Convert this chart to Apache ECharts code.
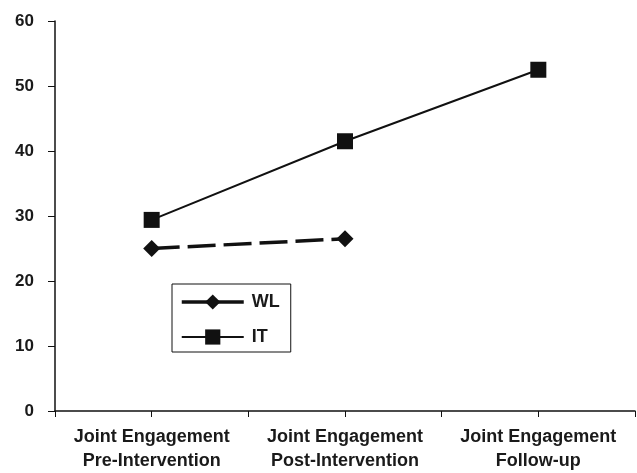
<!DOCTYPE html>
<html><head><meta charset="utf-8">
<script src="https://cdn.jsdelivr.net/npm/echarts@6/dist/echarts.min.js"></script>
<style>html,body{margin:0;padding:0;background:#fff}#c{width:637px;height:473px}</style>
</head><body><div id="c"></div>
<script>
var categories = ['Joint Engagement\nPre-Intervention', 'Joint Engagement\nPost-Intervention', 'Joint Engagement\nFollow-up'];
var wlValues = [25.0, 26.5, null];
var itValues = [29.4, 41.5, 52.5];
var yTicks = [0, 10, 20, 30, 40, 50, 60];

var chart = echarts.init(document.getElementById('c'));
var fam = 'Liberation Sans, Arial, sans-serif';
chart.setOption({
  animation: false,
  backgroundColor: '#fff',
  grid: {left: 55, right: 2, top: 21, bottom: 62},
  xAxis: [{
    type: 'category', data: categories, boundaryGap: true,
    axisLine: {lineStyle: {color: '#111', width: 1.5}},
    axisTick: {show: true, length: 6, lineStyle: {color: '#111'}},
    axisLabel: {margin: 14, lineHeight: 24, interval: 0, fontFamily: fam, fontWeight: 'bold', fontSize: 18, color: '#1a1a1a'},
    splitLine: {show: false}
  }, {
    type: 'category', data: categories, position: 'bottom', boundaryGap: true,
    axisLine: {show: false},
    axisTick: {show: true, alignWithLabel: true, length: 6, lineStyle: {color: '#111'}},
    axisLabel: {show: false}, splitLine: {show: false}
  }],
  yAxis: {
    type: 'value', min: yTicks[0], max: yTicks[yTicks.length - 1], interval: 10,
    axisLine: {show: true, lineStyle: {color: '#111', width: 1.5}},
    axisTick: {show: true, length: 7, lineStyle: {color: '#111'}},
    axisLabel: {margin: 21, fontFamily: fam, fontWeight: 'bold', fontSize: 17, color: '#1a1a1a'},
    splitLine: {show: false}
  },
  legend: {
    orient: 'vertical', left: 172, top: 284,
    borderColor: '#111', borderWidth: 1, padding: [9, 11, 6, 8], itemGap: 17,
    itemWidth: 62, itemHeight: 19,
    textStyle: {fontFamily: fam, fontWeight: 'bold', fontSize: 18, color: '#1a1a1a', padding: [0, 0, 0, 3]},
    data: [
      {name: 'WL', lineStyle: {type: 'solid', width: 3.5}},
      {name: 'IT'}
    ]
  },
  series: [{
    name: 'WL', type: 'line', data: wlValues, color: '#111',
    symbol: 'diamond', symbolSize: 17,
    lineStyle: {color: '#111', width: 3.5, type: [28, 8]},
    itemStyle: {color: '#111'}
  }, {
    name: 'IT', type: 'line', data: itValues, color: '#111',
    symbol: 'rect', symbolSize: 16,
    lineStyle: {color: '#111', width: 2},
    itemStyle: {color: '#111'}
  }]
});
</script></body></html>
